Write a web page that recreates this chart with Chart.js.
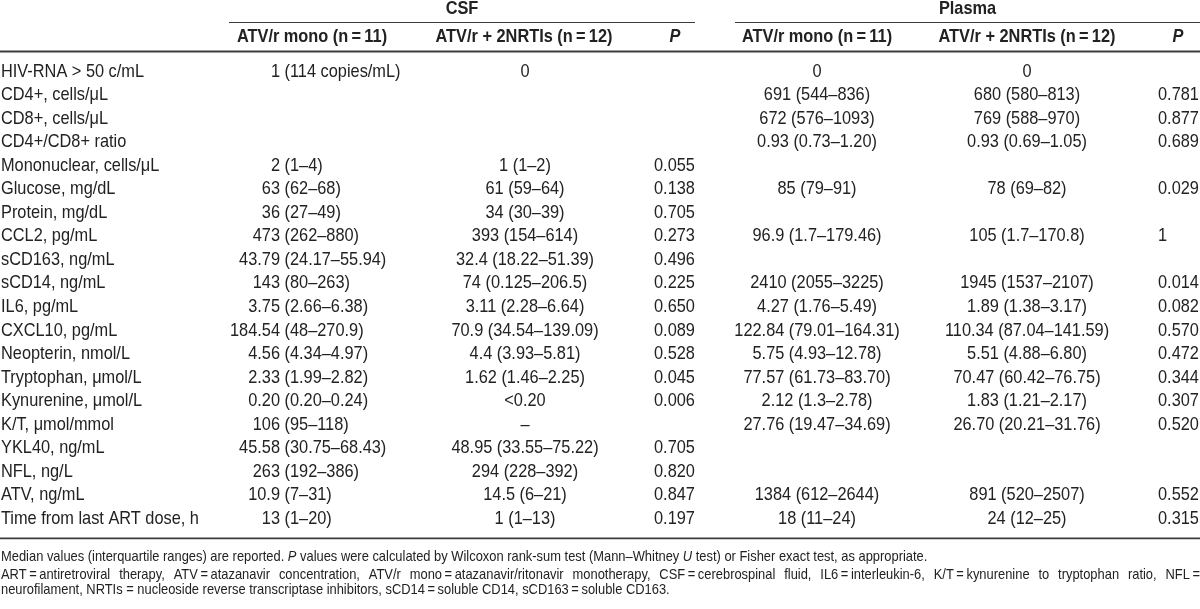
<!DOCTYPE html>
<html>
<head>
<meta charset="utf-8">
<script src="https://cdn.jsdelivr.net/npm/chart.js@4"></script>
<style>
  html, body { margin: 0; padding: 0; background: #fff; }
  #wrap { width: 1200px; height: 609px; position: relative; }
</style>
</head>
<body>
<div id="wrap"><canvas id="table"></canvas></div>
<script>
const rowLabels = [
  'HIV-RNA > 50 c/mL', 'CD4+, cells/\u03bcL', 'CD8+, cells/\u03bcL', 'CD4+/CD8+ ratio',
  'Mononuclear, cells/\u03bcL', 'Glucose, mg/dL', 'Protein, mg/dL', 'CCL2, pg/mL',
  'sCD163, ng/mL', 'sCD14, ng/mL', 'IL6, pg/mL', 'CXCL10, pg/mL', 'Neopterin, nmol/L',
  'Tryptophan, \u03bcmol/L', 'Kynurenine, \u03bcmol/L', 'K/T, \u03bcmol/mmol', 'YKL40, ng/mL',
  'NFL, ng/L', 'ATV, ng/mL', 'Time from last ART dose, h'
];

const csfMono = [
  '1 (114 copies/mL)', '', '', '', '2 (1–4)', '63 (62–68)', '36 (27–49)', '473 (262–880)',
  '43.79 (24.17–55.94)', '143 (80–263)', '3.75 (2.66–6.38)', '184.54 (48–270.9)',
  '4.56 (4.34–4.97)', '2.33 (1.99–2.82)', '0.20 (0.20–0.24)', '106 (95–118)',
  '45.58 (30.75–68.43)', '263 (192–386)', '10.9 (7–31)', '13 (1–20)'
];
const csfDual = [
  '0', '', '', '', '1 (1–2)', '61 (59–64)', '34 (30–39)', '393 (154–614)',
  '32.4 (18.22–51.39)', '74 (0.125–206.5)', '3.11 (2.28–6.64)', '70.9 (34.54–139.09)',
  '4.4 (3.93–5.81)', '1.62 (1.46–2.25)', '<0.20', '–',
  '48.95 (33.55–75.22)', '294 (228–392)', '14.5 (6–21)', '1 (1–13)'
];
const csfP = [
  '', '', '', '', '0.055', '0.138', '0.705', '0.273', '0.496', '0.225', '0.650', '0.089',
  '0.528', '0.045', '0.006', '', '0.705', '0.820', '0.847', '0.197'
];
const plasmaMono = [
  '0', '691 (544–836)', '672 (576–1093)', '0.93 (0.73–1.20)', '', '85 (79–91)', '',
  '96.9 (1.7–179.46)', '', '2410 (2055–3225)', '4.27 (1.76–5.49)', '122.84 (79.01–164.31)',
  '5.75 (4.93–12.78)', '77.57 (61.73–83.70)', '2.12 (1.3–2.78)', '27.76 (19.47–34.69)',
  '', '', '1384 (612–2644)', '18 (11–24)'
];
const plasmaDual = [
  '0', '680 (580–813)', '769 (588–970)', '0.93 (0.69–1.05)', '', '78 (69–82)', '',
  '105 (1.7–170.8)', '', '1945 (1537–2107)', '1.89 (1.38–3.17)', '110.34 (87.04–141.59)',
  '5.51 (4.88–6.80)', '70.47 (60.42–76.75)', '1.83 (1.21–2.17)', '26.70 (20.21–31.76)',
  '', '', '891 (520–2507)', '24 (12–25)'
];
const plasmaP = [
  '', '0.781', '0.877', '0.689', '', '0.029', '', '1', '', '0.014', '0.082', '0.570',
  '0.472', '0.344', '0.307', '0.520', '', '', '0.552', '0.315'
];

const groupTitles = ['CSF', 'Plasma'];
const columnHeaders = [
  'ATV/r mono (n\u2009=\u200911)', 'ATV/r + 2NRTIs (n\u2009=\u200912)', 'P',
  'ATV/r mono (n\u2009=\u200911)', 'ATV/r + 2NRTIs (n\u2009=\u200912)', 'P'
];

const footnote1 = [
  ['Median values (interquartile ranges) are reported. ', false],
  ['P', true],
  [' values were calculated by Wilcoxon rank-sum test (Mann–Whitney ', false],
  ['U', true],
  [' test) or Fisher exact test, as appropriate.', false]
];
const footnote2 = 'ART\u2009=\u2009antiretroviral therapy, ATV\u2009=\u2009atazanavir concentration, ATV/r mono\u2009=\u2009atazanavir/ritonavir monotherapy, CSF\u2009=\u2009cerebrospinal fluid, IL6\u2009=\u2009interleukin-6, K/T\u2009=\u2009kynurenine to tryptophan ratio, NFL\u2009=';
const footnote3 = 'neurofilament, NRTIs = nucleoside reverse transcriptase inhibitors, sCD14\u2009=\u2009soluble CD14, sCD163\u2009=\u2009soluble CD163.';

// layout
const INK = '#222';
const RULE = '#3c3c3c';
const FONT = '"Liberation Sans", Arial, sans-serif';
const SX = 0.86;
const columns = [
  { values: csfMono, x: 280, align: 'paren' },
  { values: csfDual, x: 525, align: 'center' },
  { values: csfP, x: 654, align: 'left' },
  { values: plasmaMono, x: 817, align: 'center' },
  { values: plasmaDual, x: 1027, align: 'center' },
  { values: plasmaP, x: 1158, align: 'left' }
];
const headerX = [312, 524, 675, 817, 1027, 1178];
const groups = [{ x0: 229, x1: 695 }, { x0: 735, x1: 1200 }];

function text(ctx, str, x, y, align, font) {
  ctx.save();
  ctx.font = font;
  ctx.textAlign = align;
  ctx.textBaseline = 'middle';
  ctx.translate(x, y);
  ctx.scale(SX, 1);
  ctx.fillText(str, 0, 0);
  ctx.restore();
}

function width(ctx, str, font) {
  ctx.save();
  ctx.font = font;
  const w = ctx.measureText(str).width * SX;
  ctx.restore();
  return w;
}

function rule(ctx, x0, x1, y, lw) {
  ctx.save();
  ctx.strokeStyle = RULE;
  ctx.lineWidth = lw;
  ctx.beginPath();
  ctx.moveTo(x0, y);
  ctx.lineTo(x1, y);
  ctx.stroke();
  ctx.restore();
}

const tablePlugin = {
  id: 'tableText',
  afterDraw(chart) {
    const ctx = chart.ctx;
    const xs = chart.scales.x;
    const ys = chart.scales.y;
    const area = chart.chartArea;
    const body = '19px ' + FONT;
    const bold = 'bold 19px ' + FONT;
    const boldIt = 'italic bold 19px ' + FONT;
    const small = '15px ' + FONT;
    const smallIt = 'italic 15px ' + FONT;
    ctx.fillStyle = INK;

    // header
    groupTitles.forEach((t, i) => {
      const g = groups[i];
      text(ctx, t, xs.getPixelForValue((g.x0 + g.x1) / 2), 9, 'center', bold);
      rule(ctx, xs.getPixelForValue(g.x0), xs.getPixelForValue(g.x1), 22.5, 1.2);
    });
    columnHeaders.forEach((t, i) => {
      text(ctx, t, xs.getPixelForValue(headerX[i]), 37, 'center', t === 'P' ? boldIt : bold);
    });
    rule(ctx, area.left, area.right, 51.5, 1.8);

    // body rows
    rowLabels.forEach((label, r) => {
      const y = ys.getPixelForValue(r);
      text(ctx, label, area.left + 1, y, 'left', body);
      columns.forEach(col => {
        const v = col.values[r];
        if (!v) return;
        const x = xs.getPixelForValue(col.x);
        if (col.align === 'paren' && v.indexOf(' (') > 0) {
          const k = v.indexOf(' (');
          text(ctx, v.slice(0, k), x, y, 'right', body);
          text(ctx, v.slice(k), x, y, 'left', body);
        } else {
          text(ctx, v, x, y, col.align === 'paren' ? 'left' : col.align, body);
        }
      });
    });

    const yb = area.bottom + 8;
    rule(ctx, area.left, area.right, yb, 1.8);

    // footnotes
    let x = area.left + 1;
    footnote1.forEach(([s, it]) => {
      const f = it ? smallIt : small;
      text(ctx, s, x, yb + 19, 'left', f);
      x += width(ctx, s, f);
    });
    const words = footnote2.split(' ');
    const ww = words.map(w => width(ctx, w, small));
    const gap = (area.right - area.left - 1 - ww.reduce((a, b) => a + b, 0)) / (words.length - 1);
    x = area.left + 1;
    words.forEach((w, i) => {
      text(ctx, w, x, yb + 37, 'left', small);
      x += ww[i] + gap;
    });
    text(ctx, footnote3, area.left + 1, yb + 52, 'left', small);
  }
};

new Chart(document.getElementById('table'), {
  type: 'bar',
  data: { labels: rowLabels, datasets: [] },
  options: {
    indexAxis: 'y',
    responsive: true,
    maintainAspectRatio: false,
    devicePixelRatio: 1,
    animation: false,
    layout: { padding: { top: 59.7, bottom: 78.7, left: 0, right: 0 } },
    plugins: { legend: { display: false }, tooltip: { enabled: false } },
    scales: {
      x: { type: 'linear', min: 0, max: 1200, display: false },
      y: { type: 'category', offset: true, display: false }
    }
  },
  plugins: [tablePlugin]
});
</script>
</body>
</html>
